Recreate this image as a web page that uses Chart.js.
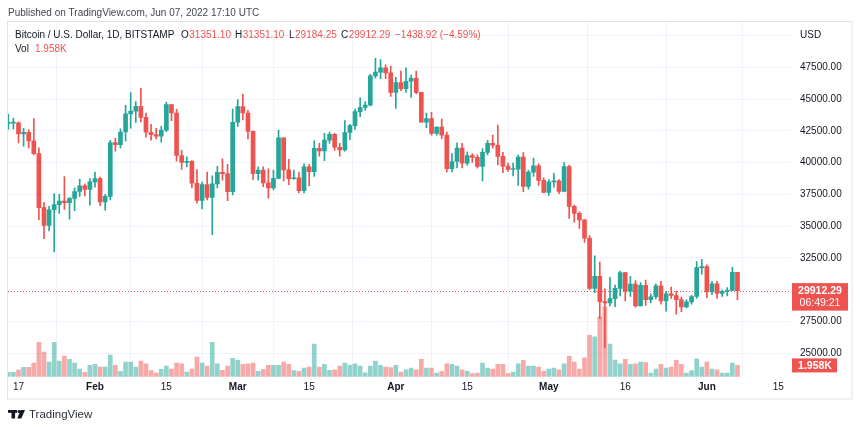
<!DOCTYPE html>
<html>
<head>
<meta charset="utf-8">
<title>Bitcoin / U.S. Dollar, 1D, BITSTAMP</title>
<script src="https://cdn.jsdelivr.net/npm/chart.js@4.4.0/dist/chart.umd.min.js"></script>
<style>
    html, body { margin: 0; padding: 0; background: #ffffff; }
    #btcChart { display: block; }
</style>
</head>
<body>
<canvas id="btcChart" width="860" height="430"></canvas>
<script>
// daily candles, Jan 15 2022 (index 0) .. Jun 7 2022 (index 143)
const dates = [
    'Jan 15', 'Jan 16', 'Jan 17', 'Jan 18', 'Jan 19', 'Jan 20', 'Jan 21', 'Jan 22', 'Jan 23', 'Jan 24',
    'Jan 25', 'Jan 26', 'Jan 27', 'Jan 28', 'Jan 29', 'Jan 30', 'Jan 31',
    'Feb 1', 'Feb 2', 'Feb 3', 'Feb 4', 'Feb 5', 'Feb 6', 'Feb 7', 'Feb 8', 'Feb 9', 'Feb 10',
    'Feb 11', 'Feb 12', 'Feb 13', 'Feb 14', 'Feb 15', 'Feb 16', 'Feb 17', 'Feb 18', 'Feb 19', 'Feb 20',
    'Feb 21', 'Feb 22', 'Feb 23', 'Feb 24', 'Feb 25', 'Feb 26', 'Feb 27', 'Feb 28',
    'Mar 1', 'Mar 2', 'Mar 3', 'Mar 4', 'Mar 5', 'Mar 6', 'Mar 7', 'Mar 8', 'Mar 9', 'Mar 10',
    'Mar 11', 'Mar 12', 'Mar 13', 'Mar 14', 'Mar 15', 'Mar 16', 'Mar 17', 'Mar 18', 'Mar 19', 'Mar 20',
    'Mar 21', 'Mar 22', 'Mar 23', 'Mar 24', 'Mar 25', 'Mar 26', 'Mar 27', 'Mar 28', 'Mar 29', 'Mar 30', 'Mar 31',
    'Apr 1', 'Apr 2', 'Apr 3', 'Apr 4', 'Apr 5', 'Apr 6', 'Apr 7', 'Apr 8', 'Apr 9', 'Apr 10',
    'Apr 11', 'Apr 12', 'Apr 13', 'Apr 14', 'Apr 15', 'Apr 16', 'Apr 17', 'Apr 18', 'Apr 19', 'Apr 20',
    'Apr 21', 'Apr 22', 'Apr 23', 'Apr 24', 'Apr 25', 'Apr 26', 'Apr 27', 'Apr 28', 'Apr 29', 'Apr 30',
    'May 1', 'May 2', 'May 3', 'May 4', 'May 5', 'May 6', 'May 7', 'May 8', 'May 9', 'May 10',
    'May 11', 'May 12', 'May 13', 'May 14', 'May 15', 'May 16', 'May 17', 'May 18', 'May 19', 'May 20',
    'May 21', 'May 22', 'May 23', 'May 24', 'May 25', 'May 26', 'May 27', 'May 28', 'May 29', 'May 30', 'May 31',
    'Jun 1', 'Jun 2', 'Jun 3', 'Jun 4', 'Jun 5', 'Jun 6', 'Jun 7'
];

const opens = [
    43080, 43100, 43120, 42250, 42380, 41700, 40700, 36450, 35050, 36280,
    36680, 36970, 36830, 37170, 37720, 38160, 37880,
    38480, 38740, 36900, 37330, 41560, 41400, 42400, 43830, 44050, 44420,
    43550, 42380, 42200, 42070, 42550, 44560, 43900, 40550, 40000, 40100,
    38380, 37020, 38260, 37250, 38320, 39220, 39120, 37700,
    43170, 44400, 43900, 42450, 39120, 39400, 38400, 38000, 38750, 41950,
    39420, 38720, 38800, 37780, 39660, 39270, 41120, 40920, 41760, 42220,
    41200, 41000, 42360, 42900, 44000, 44330, 44520, 46820, 47120, 47450, 47060,
    45520, 46300, 45820, 46400, 46620, 45520, 43180, 43450, 42280, 42780,
    42160, 39520, 40080, 41140, 39950, 40550, 40400, 39700, 40800, 41500,
    41370, 40480, 39720, 39450, 39470, 40420, 38110, 39240, 39740, 38590,
    37640, 38480, 38560, 37720, 39680, 36550, 36000, 35480, 34050, 30080,
    31030, 29050, 28950, 29280, 30090, 31340, 29860, 30430, 28700, 30320,
    29200, 29430, 30280, 29100, 29650, 29530, 29200, 28620, 29030, 29450, 31720,
    31800, 29800, 30450, 29700, 29860, 29920, 31351.10
];

const highs = [
    43800, 43500, 43200, 42700, 42600, 43450, 41150, 36850, 36550, 37550,
    37500, 38900, 37230, 38000, 38700, 38330, 38740,
    39250, 38860, 37500, 41750, 41900, 42650, 44500, 45500, 44800, 45850,
    43900, 43000, 42700, 42850, 44750, 44560, 44180, 40950, 40450, 40150,
    39440, 38450, 39250, 38950, 39700, 40280, 39850, 44200,
    44950, 45380, 44100, 42500, 39650, 39650, 39500, 39400, 42560, 41950,
    40250, 39400, 39250, 39900, 39850, 41700, 41500, 42300, 42400, 42300,
    41500, 43300, 43000, 44200, 45100, 44800, 46950, 48200, 48100, 47700, 47600,
    46700, 47200, 47450, 46880, 47200, 45520, 43900, 43950, 42800, 43420,
    42400, 40700, 41550, 41500, 40850, 40700, 40600, 41100, 41750, 42150,
    42950, 40800, 39950, 39950, 40600, 40780, 39400, 40350, 39900, 38790,
    38650, 39150, 38650, 40000, 39800, 36650, 36120, 35500, 34250, 32650,
    32150, 30050, 30950, 30350, 31450, 31350, 31030, 30700, 30550, 30750,
    29650, 30450, 30650, 29850, 30200, 29850, 29400, 29200, 29550, 32200, 32380,
    31950, 30650, 30650, 29950, 30150, 31750, 31351.10
];

const lows = [
    42600, 42650, 41550, 41280, 41150, 40600, 35500, 34000, 34620, 32950,
    36000, 36300, 35530, 36200, 37300, 37360, 36650,
    38050, 36600, 36250, 37050, 40900, 41150, 41700, 42700, 43150, 43200,
    42000, 41750, 41850, 41600, 42430, 43300, 40100, 39450, 39650, 38000,
    36800, 36350, 37050, 34320, 38000, 38600, 37000, 37450,
    42850, 43350, 41850, 38650, 38600, 38100, 37200, 37850, 38700, 38550,
    38250, 38670, 37600, 37600, 38150, 38900, 40500, 40150, 41500, 40950,
    40500, 40900, 41800, 42600, 43600, 44100, 44450, 46650, 46600, 46600, 45200,
    44250, 45650, 45520, 45120, 45400, 43150, 42750, 42150, 42150, 41880,
    39250, 39250, 39570, 39570, 39780, 40000, 39550, 38550, 40600, 41120,
    39800, 39200, 39300, 38950, 38200, 37700, 37900, 38900, 38200, 37600,
    37400, 38050, 37550, 37680, 35600, 35300, 34800, 33700, 30000, 29750,
    27700, 25400, 28700, 28650, 29500, 29100, 29450, 28600, 28700, 28750,
    28950, 29250, 28850, 28300, 29300, 28050, 28250, 28550, 28850, 29300, 31200,
    29350, 29600, 29300, 29450, 29500, 29900, 29184.25
];

const closes = [
    43100, 43120, 42250, 42380, 41700, 40700, 36450, 35050, 36280, 36680,
    36970, 36830, 37170, 37720, 38160, 37880, 38480,
    38740, 36900, 37330, 41560, 41400, 42400, 43830, 44050, 44420, 43550,
    42380, 42200, 42070, 42550, 44560, 43900, 40550, 40000, 40100, 38380,
    37020, 38260, 37250, 38320, 39220, 39120, 37700, 43170,
    44400, 43900, 42450, 39120, 39400, 38400, 38000, 38750, 41950, 39420,
    38720, 38800, 37780, 39660, 39270, 41120, 40920, 41760, 42220, 41200,
    41000, 42360, 42900, 44000, 44330, 44520, 46820, 47120, 47450, 47060, 45520,
    46300, 45820, 46400, 46620, 45520, 43180, 43450, 42280, 42780, 42160,
    39520, 40080, 41140, 39950, 40550, 40400, 39700, 40800, 41500, 41370,
    40480, 39720, 39450, 39470, 40420, 38110, 39240, 39740, 38590, 37640,
    38480, 38560, 37720, 39680, 36550, 36000, 35480, 34050, 30080, 31030,
    29050, 28950, 29280, 30090, 31340, 29860, 30430, 28700, 30320, 29200,
    29430, 30280, 29100, 29650, 29530, 29200, 28620, 29030, 29450, 31720, 31800,
    29800, 30450, 29700, 29860, 29920, 31351.21, 29912.29
];

// volume in thousands of BTC
const volumes = [
    0.75, 0.75, 1.16, 1.61, 1.61, 2.37, 5.94, 4.28, 2.55, 5.94,
    2.72, 3.59, 3.00, 2.37, 1.33, 0.75, 1.96,
    2.13, 1.68, 1.68, 3.76, 1.96, 0.92, 2.55, 2.55, 1.68, 2.72,
    2.25, 1.04, 0.64, 1.27, 1.85, 1.33, 2.37, 2.25, 0.81, 1.33,
    3.41, 2.37, 1.85, 5.94, 2.25, 1.09, 1.85, 3.17,
    2.89, 2.13, 2.25, 2.37, 0.92, 1.27, 1.96, 1.96, 1.96, 2.55,
    2.13, 1.04, 0.92, 1.51, 1.68, 5.67, 1.68, 2.13, 1.09, 1.21,
    1.85, 2.37, 2.03, 2.25, 1.85, 0.69, 1.85, 2.72, 1.96, 1.68, 1.56,
    1.96, 0.81, 1.21, 1.51, 1.21, 3.00, 1.51, 1.51, 0.64, 0.92,
    2.25, 2.13, 1.85, 1.21, 0.92, 0.52, 0.64, 2.37, 1.51, 1.33,
    2.13, 2.13, 0.52, 0.81, 2.25, 2.82, 1.85, 1.85, 1.68, 0.92,
    1.33, 1.51, 1.21, 2.25, 3.59, 2.55, 1.33, 3.29, 7.16, 6.93,
    10.4, 12.1, 5.67, 2.89, 2.25, 3.00, 2.13, 2.25, 2.55, 2.43,
    0.64, 1.33, 2.13, 1.51, 1.68, 2.82, 2.13, 0.64, 1.04, 3.12, 1.68,
    2.55, 1.33, 1.21, 0.64, 0.64, 2.37, 1.958
];

const priceTicks = [25000, 27500, 30000, 32500, 35000, 37500, 40000, 42500, 45000, 47500, 50000];
const tickDays = [2, 17, 31, 45, 59, 76, 90, 106, 121, 137, 151];
const tickLabels = ['17', 'Feb', '15', 'Mar', '15', 'Apr', '15', 'May', '16', 'Jun', '15'];
const barCountdown = '06:49:21';

const UP = '#26a69a';
const DOWN = '#ef5350';
const UP_VOL = 'rgba(38, 166, 154, 0.5)';
const DOWN_VOL = 'rgba(239, 83, 80, 0.5)';
const TEXT = '#131722';
const FONT = "'Liberation Sans', Arial, sans-serif";

const last = closes.length - 1;
const isUp = (i) => closes[i] >= opens[i];
const idx = closes.map((c, i) => i);
const candleColors = idx.map(i => isUp(i) ? UP : DOWN);

function fmtSigned(v, digits) {
    const s = Math.abs(v).toFixed(digits);
    return (v < 0 ? '\u2212' : '+') + s;
}

// legend, frame, last price line and axis badges
const overlayPlugin = {
    id: 'tvOverlay',
    beforeDatasetsDraw(chart) {
        const ctx = chart.ctx;
        const area = chart.chartArea;
        const py = chart.scales.y.getPixelForValue(closes[last]);
        ctx.save();
        ctx.strokeStyle = isUp(last) ? UP : DOWN;
        ctx.lineWidth = 1;
        ctx.setLineDash([1, 2]);
        ctx.beginPath();
        ctx.moveTo(area.left, Math.round(py) + 0.5);
        ctx.lineTo(area.right, Math.round(py) + 0.5);
        ctx.stroke();
        ctx.restore();
    },
    afterDraw(chart) {
        const ctx = chart.ctx;
        const area = chart.chartArea;
        const lastColor = isUp(last) ? UP : DOWN;
        ctx.save();

        // frame
        ctx.strokeStyle = '#e0e3eb';
        ctx.lineWidth = 1;
        ctx.strokeRect(7.5, 21.5, 844.5, 377.5);

        ctx.textBaseline = 'middle';
        ctx.textAlign = 'left';

        ctx.font = '10px ' + FONT;
        ctx.fillStyle = '#434651';
        ctx.fillText('Published on TradingView.com, Jun 07, 2022 17:10 UTC', 8, 13);

        ctx.fillStyle = TEXT;
        ctx.fillText('Bitcoin / U.S. Dollar, 1D, BITSTAMP', 15, 35);

        const change = closes[last] - closes[last - 1];
        const pct = change / closes[last - 1] * 100;
        const groups = [
            ['O', opens[last].toFixed(2), 181],
            ['H', highs[last].toFixed(2), 235],
            ['L', lows[last].toFixed(2), 289],
            ['C', closes[last].toFixed(2), 341]
        ];
        groups.forEach(([k, v, x]) => {
            ctx.fillStyle = TEXT;
            ctx.fillText(k, x, 35);
            ctx.fillStyle = lastColor;
            ctx.fillText(v, x + ctx.measureText(k).width + 0.5, 35);
        });
        ctx.fillStyle = lastColor;
        ctx.fillText(fmtSigned(change, 2) + ' (' + fmtSigned(pct, 2) + '%)', 395, 35);

        ctx.fillStyle = TEXT;
        ctx.fillText('Vol', 15, 49);
        ctx.fillStyle = lastColor;
        ctx.fillText(volumes[last].toFixed(3) + 'K', 35, 49);

        ctx.fillStyle = TEXT;
        ctx.fillText('USD', area.right + 9, 35);

        // last price badge
        const py = chart.scales.y.getPixelForValue(closes[last]);
        ctx.fillStyle = lastColor;
        ctx.fillRect(area.right + 1, py - 7.5, 56, 27.5);
        ctx.fillStyle = '#ffffff';
        ctx.textAlign = 'center';
        ctx.font = 'bold 10.5px ' + FONT;
        ctx.fillText(closes[last].toFixed(2), area.right + 29, py + 0.5);
        ctx.font = '10.5px ' + FONT;
        ctx.fillText(barCountdown, area.right + 29, py + 12.5);

        // last volume badge
        const vy = chart.scales.yVol.getPixelForValue(volumes[last]);
        ctx.fillStyle = lastColor;
        ctx.fillRect(area.right + 1, vy - 7, 45, 14);
        ctx.fillStyle = '#ffffff';
        ctx.font = 'bold 10.5px ' + FONT;
        ctx.fillText(volumes[last].toFixed(3) + 'K', area.right + 24, vy + 0.5);

        // TradingView mark
        ctx.fillStyle = TEXT;
        ctx.fillRect(8, 410, 9, 2.8);
        ctx.fillRect(11.5, 410, 3.6, 8.5);
        ctx.beginPath();
        ctx.arc(19, 411.4, 1.5, 0, Math.PI * 2);
        ctx.fill();
        ctx.beginPath();
        ctx.moveTo(20.5, 410);
        ctx.lineTo(25, 410);
        ctx.lineTo(21.3, 418.5);
        ctx.lineTo(17.3, 418.5);
        ctx.closePath();
        ctx.fill();
        ctx.textAlign = 'left';
        ctx.font = '11.5px ' + FONT;
        ctx.fillStyle = '#2a2e39';
        ctx.fillText('TradingView', 29, 414.5);

        ctx.restore();
    }
};

const config = {
    type: 'bar',
    data: {
        labels: dates,
        datasets: [
            {
                label: 'Volume',
                yAxisID: 'yVol',
                data: idx.map(i => ({ x: i, y: volumes[i] })),
                backgroundColor: idx.map(i => isUp(i) ? UP_VOL : DOWN_VOL),
                barThickness: 4,
                grouped: false,
                order: 3
            },
            {
                label: 'Wick',
                yAxisID: 'y',
                data: idx.map(i => ({ x: i, y: [lows[i], highs[i]] })),
                backgroundColor: candleColors,
                barThickness: 1,
                grouped: false,
                order: 2
            },
            {
                label: 'Body',
                yAxisID: 'y',
                data: idx.map(i => ({ x: i, y: [opens[i], closes[i]] })),
                backgroundColor: candleColors,
                barThickness: 4,
                minBarLength: 1,
                grouped: false,
                order: 1
            }
        ]
    },
    options: {
        responsive: false,
        animation: false,
        events: [],
        layout: {
            padding: { left: 8, top: 22, right: 8, bottom: 31 }
        },
        plugins: {
            legend: { display: false },
            tooltip: { enabled: false },
            title: { display: false }
        },
        scales: {
            x: {
                type: 'linear',
                min: -0.06,
                max: 153.5,
                offset: false,
                afterBuildTicks: (axis) => { axis.ticks = tickDays.map(v => ({ value: v })); },
                afterFit: (axis) => { axis.height = 22.3; },
                grid: { color: '#f0f3fa', drawTicks: false },
                border: { display: false },
                ticks: {
                    autoSkip: false,
                    maxRotation: 0,
                    padding: 5,
                    color: TEXT,
                    font: (c) => ({
                        family: FONT,
                        size: 10,
                        weight: /^[A-Z]/.test(tickLabels[tickDays.indexOf(c.tick && c.tick.value)] || '') ? 'bold' : 'normal'
                    }),
                    callback: (value) => tickLabels[tickDays.indexOf(value)]
                }
            },
            y: {
                position: 'right',
                min: 23134,
                max: 51063,
                afterBuildTicks: (axis) => { axis.ticks = priceTicks.map(v => ({ value: v })); },
                afterFit: (axis) => { axis.width = 61; },
                grid: { color: '#f0f3fa', drawTicks: false },
                border: { display: false },
                ticks: {
                    padding: 9,
                    color: TEXT,
                    font: { family: FONT, size: 10 },
                    // top level sits under the USD caption, the one next to the price badge is hidden by it
                    callback: (value) => (value >= 50000 || Math.abs(value - closes[last]) < 1500) ? '' : value.toFixed(2)
                }
            },
            yVol: {
                display: false,
                min: 0,
                max: 61.5
            }
        }
    },
    plugins: [overlayPlugin]
};

const ctx = document.getElementById('btcChart').getContext('2d');
new Chart(ctx, config);
</script>
</body>
</html>
